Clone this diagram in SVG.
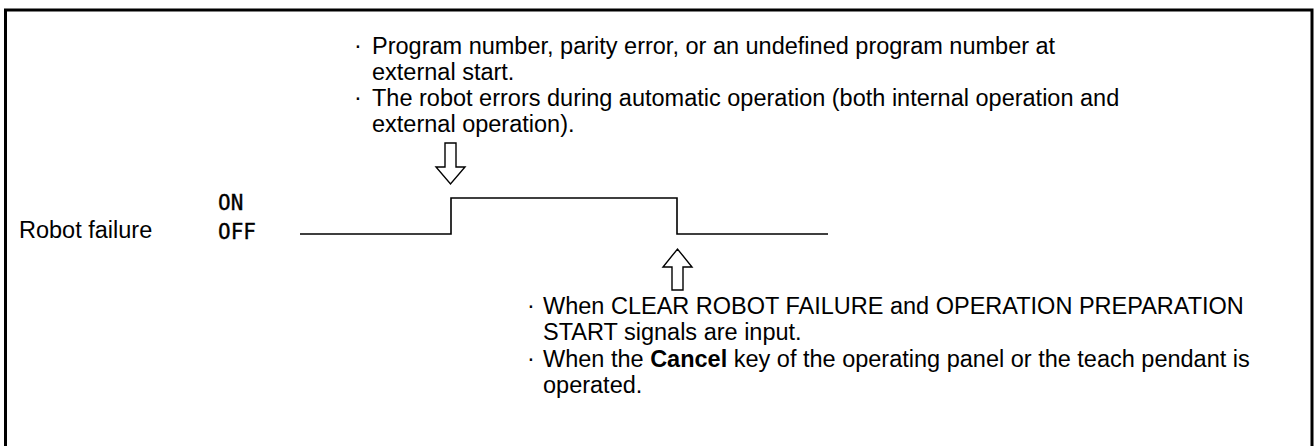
<svg xmlns="http://www.w3.org/2000/svg" width="1316" height="446" viewBox="0 0 1316 446">
  <style>
    .t { font-family: "Liberation Sans", Arial, sans-serif; font-size: 23.5px; fill: #000; }
    .m { font-family: "DejaVu Sans Mono", "Liberation Mono", monospace; font-size: 21px; fill: #000; stroke: #000; stroke-width: 0.35; }
    .ln { fill: none; stroke: #000; stroke-width: 1.6; }
    .arr { fill: #fff; stroke: #000; stroke-width: 1.4; stroke-linejoin: miter; }
    .b { font-weight: bold; }
  </style>
  <rect width="1316" height="446" fill="#fff"/>
  <g id="frame">
    <path d="M5.5,450 V10 H1312 V450" fill="none" stroke="#000" stroke-width="3"/>
  </g>
  <g id="signal-label">
    <text class="t" x="19" y="238">Robot failure</text>
    <text class="m" x="218" y="210">ON</text>
    <text class="m" x="218" y="239">OFF</text>
  </g>
  <g id="connectors">
    <polyline class="ln" points="300,234 451,234 451,198 677,198 677,234 828,234"/>
    <polygon id="arrow-set" class="arr" points="445,143 456,143 456,167 465,167 450.5,184 436,167 445,167"/>
    <polygon id="arrow-reset" class="arr" points="672,290 683,290 683,267 692,267 677.5,249 663,267 672,267"/>
  </g>
  <g id="top-note">
    <text class="t" x="354" y="53">·</text>
    <text class="t" x="372" y="54">Program number, parity error, or an undefined program number at</text>
    <text class="t" x="372" y="80">external start.</text>
    <text class="t" x="354" y="105">·</text>
    <text class="t" x="372" y="106">The robot errors during automatic operation (both internal operation and</text>
    <text class="t" x="372" y="132">external operation).</text>
  </g>
  <g id="bottom-note">
    <text class="t" x="527" y="313">·</text>
    <text class="t" x="543" y="314">When CLEAR ROBOT FAILURE and OPERATION PREPARATION</text>
    <text class="t" x="543" y="340">START signals are input.</text>
    <text class="t" x="527" y="366">·</text>
    <text class="t" x="543" y="367">When the <tspan class="b">Cancel</tspan> key of the operating panel or the teach pendant is</text>
    <text class="t" x="543" y="393">operated.</text>
  </g>
</svg>
